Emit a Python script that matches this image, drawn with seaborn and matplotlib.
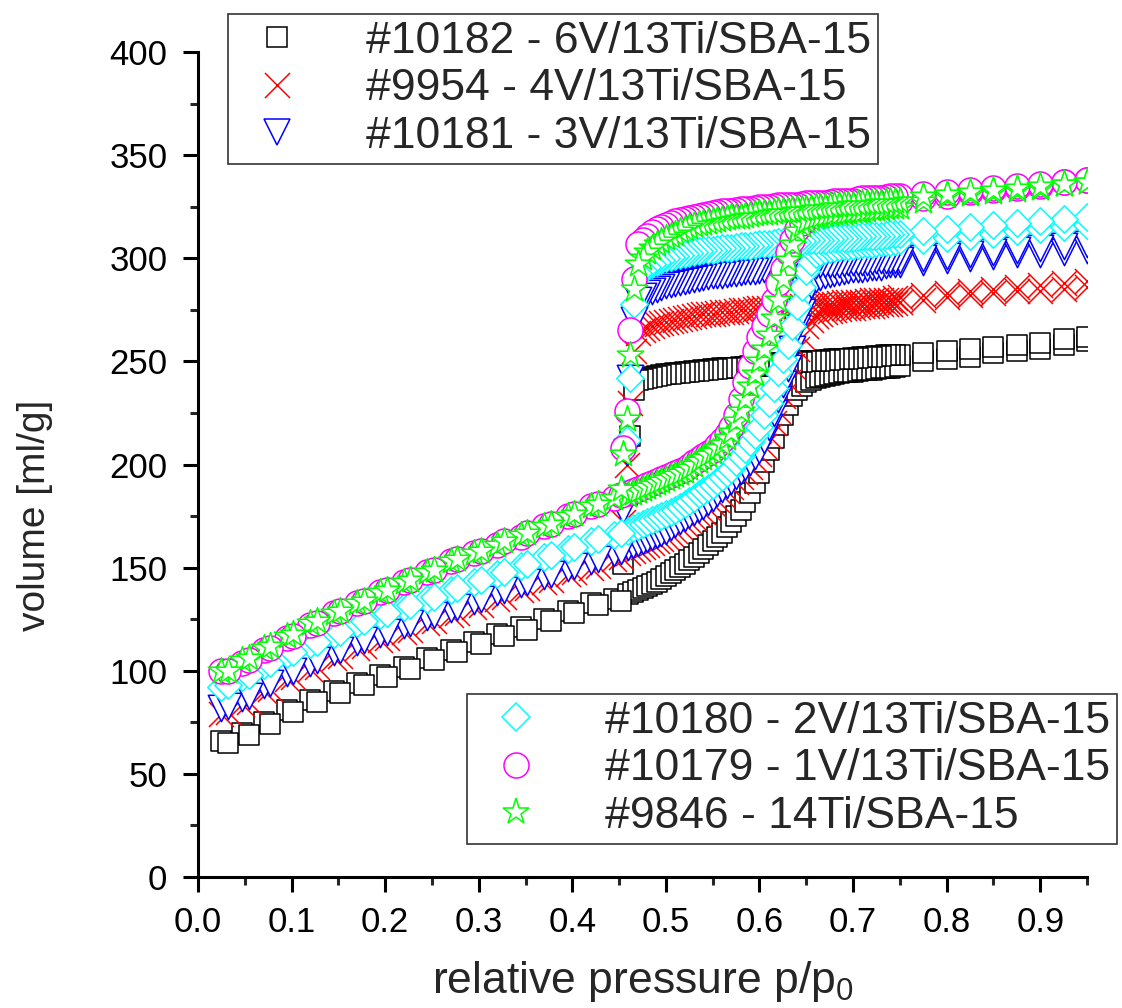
import matplotlib
matplotlib.use("Agg")
import matplotlib.pyplot as plt
from matplotlib.lines import Line2D
from matplotlib.ticker import MultipleLocator
import seaborn as sns

# relative pressure grids (adsorption / desorption)
P_ADS = [0.025, 0.047, 0.07, 0.095, 0.12, 0.145, 0.17, 0.195, 0.22, 0.245, 0.27, 0.295,
         0.32, 0.345, 0.37, 0.395, 0.42, 0.445,
         0.46, 0.465, 0.47, 0.475, 0.48, 0.485, 0.49, 0.495, 0.50, 0.505,
         0.51, 0.515, 0.52, 0.525, 0.53, 0.535, 0.54, 0.545, 0.55, 0.555,
         0.56, 0.565, 0.57, 0.575, 0.58, 0.585, 0.59, 0.595, 0.60, 0.605,
         0.61, 0.615, 0.62, 0.625, 0.63, 0.635, 0.64, 0.645, 0.65, 0.655,
         0.66, 0.665, 0.67, 0.675, 0.68, 0.685, 0.69, 0.695, 0.70, 0.705,
         0.71, 0.715, 0.72, 0.725, 0.73, 0.735, 0.74, 0.745, 0.75,
         0.775, 0.80, 0.825, 0.85, 0.875, 0.90, 0.925, 0.95]
P_DES = [0.95, 0.925, 0.90, 0.875, 0.85, 0.825, 0.80, 0.775,
         0.75, 0.745, 0.74, 0.735, 0.73, 0.725, 0.72, 0.715, 0.71, 0.705,
         0.70, 0.695, 0.69, 0.685, 0.68, 0.675, 0.67, 0.665, 0.66, 0.655,
         0.65, 0.645, 0.64, 0.635, 0.63, 0.625, 0.62, 0.615, 0.61, 0.605,
         0.60, 0.595, 0.59, 0.585, 0.58, 0.575, 0.57, 0.565, 0.56, 0.555,
         0.55, 0.545, 0.54, 0.535, 0.53, 0.525, 0.52, 0.515, 0.51, 0.505,
         0.50, 0.495, 0.49, 0.485, 0.48, 0.475, 0.47,
         0.466, 0.462, 0.458, 0.454,
         0.452, 0.427, 0.402, 0.377, 0.352, 0.327, 0.302, 0.277, 0.252, 0.227, 0.202, 0.177,
         0.152, 0.127, 0.102, 0.077, 0.054, 0.032]

# volume adsorbed [ml/g]
ADS_10182 = [66, 70, 75, 81, 86, 90, 94, 98, 102, 106, 110, 114, 118, 121, 125, 129, 133, 135,
             137, 138, 139, 140, 141, 142, 143, 144.5, 146, 147.5,
             149, 150.5, 152, 153.5, 155, 157, 159, 161, 163, 165,
             167, 169.5, 172, 175, 178, 182, 186, 191, 196, 201,
             207, 213, 219, 224, 229, 233, 236, 238, 240, 241,
             242, 242.5, 243, 243.5, 244, 244.5, 245, 245, 245, 245.5,
             246, 246, 246, 246.5, 247, 247, 247, 247.5, 248,
             250, 251, 252, 254, 255, 256, 258, 260]
DES_10182 = [262, 261, 259, 258, 257, 256, 255, 254,
             253, 253, 253, 253, 252.5, 252.5, 252, 252, 252, 251.5,
             251.5, 251, 251, 251, 251, 250.5, 250.5, 250, 250, 250,
             250, 249.5, 249.5, 249, 249, 249, 249, 248.5, 248.5, 248,
             248, 248, 248, 247.5, 247.5, 247, 247, 247, 247, 246.5,
             246.5, 246, 246, 245.5, 245.5, 245, 245, 244.5, 244.5, 244,
             244, 243.5, 243, 242.5, 242, 241.5, 241,
             236, 214, 185, 152,
             134, 132, 128, 124, 120, 117, 113, 109, 105, 101, 97, 93, 89, 85, 80, 74, 69, 65]

ADS_9954 = [79, 84, 90, 96, 101, 106, 111, 115, 119, 123, 127, 131, 135, 139, 143, 147, 150, 154,
            157, 158, 159, 160, 161, 162, 163, 164, 165, 166.5,
            168, 169.5, 171, 172.5, 174, 175.5, 177, 179, 181, 183,
            185, 187, 189, 191.5, 194, 196.5, 199, 202, 205, 209,
            214, 220, 226, 233, 240, 248, 256, 262, 267, 270,
            272, 273, 274, 274.5, 275, 275.5, 276, 276, 276, 276.5,
            277, 277, 277, 277.5, 278, 278, 278, 278.5, 279,
            280, 281, 282, 283, 284, 284, 285, 286]
DES_9954 = [289, 288, 287, 286, 285, 284, 283, 282,
            281, 280.5, 280, 280, 280, 280, 280, 279.5, 279, 279,
            279, 279, 279, 278.5, 278, 278, 278, 278, 278, 277.5,
            277, 277, 277, 277, 277, 276.5, 276, 276, 276, 276,
            276, 275.5, 275, 275, 275, 274.5, 274, 274, 274, 273.5,
            273, 273, 273, 272.5, 272, 271.5, 271, 270.5, 270, 269.5,
            269, 268.5, 268, 267, 266, 265, 264,
            255, 230, 200, 172,
            155, 151, 148, 144, 140, 136, 132, 128, 124, 120, 116, 112, 107, 102, 97, 91, 85, 80]

ADS_10181 = [82, 87, 93, 99, 104, 109, 114, 118, 122, 126, 130, 134, 138, 142, 146, 150, 153, 157,
             160, 161, 162, 163, 164, 165, 166, 167, 168, 169.5,
             171, 172.5, 174, 175.5, 177, 178.5, 180, 182, 184, 186,
             188, 190, 192, 194.5, 197, 199, 201, 204, 207, 212,
             218, 225, 232, 239, 247, 256, 266, 274, 282, 287,
             290, 291, 292, 292.5, 293, 293.5, 294, 294.5, 295, 295,
             295, 295.5, 296, 296, 296, 296.5, 297, 297, 297,
             298, 299, 300, 301, 302, 302, 303, 304]
DES_10181 = [307, 306, 305, 304, 303, 302, 301, 300,
             299, 299, 299, 299, 299, 299, 298.5, 298, 298, 298,
             298, 298, 297.5, 297, 297, 297, 297, 297, 296.5, 296,
             296, 296, 296, 296, 295.5, 295, 295, 295, 295, 295,
             294.5, 294, 294, 294, 293.5, 293, 293, 292.5, 292, 292,
             292, 291.5, 291, 290.5, 290, 289.5, 289, 288.5, 288, 287.5,
             287, 286, 285, 284, 283, 281.5, 280,
             270, 242, 206, 178,
             158, 154, 151, 147, 143, 139, 135, 131, 127, 123, 119, 115, 110, 105, 100, 94, 88, 83]

ADS_10180 = [92, 97, 103, 108, 113, 118, 123, 127, 131, 135, 139, 143, 147, 151, 155, 159, 163, 166,
             168, 169, 170, 171, 172, 173, 174, 175, 176, 177,
             178, 179.5, 181, 182.5, 184, 185.5, 187, 188.5, 190, 192,
             194, 196, 198, 201, 204, 207.5, 211, 214.5, 218, 224,
             230, 237, 245, 251, 258, 267, 277, 286, 294, 298,
             302, 303, 304, 304.5, 305, 305.5, 306, 306, 306, 306.5,
             307, 307, 307, 307.5, 308, 308, 308, 308.5, 309,
             309, 310, 311, 312, 313, 314, 315, 316]
DES_10180 = [320, 319, 318, 317, 316, 315, 314, 313,
             312, 312, 312, 311.5, 311, 311, 311, 311, 311, 310.5,
             310, 310, 310, 310, 310, 309.5, 309, 309, 309, 309,
             309, 308.5, 308, 308, 308, 308, 308, 307.5, 307, 307,
             307, 306.5, 306, 306, 306, 305.5, 305, 305, 305, 304.5,
             304, 304, 304, 303.5, 303, 302.5, 302, 301.5, 301, 300.5,
             300, 299, 298, 297, 296, 294.5, 293,
             278, 242, 212, 186,
             167, 164, 160, 156, 152, 148, 144, 140, 136, 132, 128, 124, 119, 114, 109, 104, 98, 93]

ADS_10179 = [100, 104, 110, 116, 122, 128, 133, 138, 143, 148, 153, 157, 161, 165, 170, 175, 180, 184,
             186, 187, 188, 189, 190, 191, 192, 193, 194, 195,
             196, 197, 198, 199.5, 201, 202.5, 204, 205.5, 207, 209.5,
             212, 215, 218, 224, 232, 240, 248, 255, 262, 267,
             273, 280, 288, 295, 303, 309, 314, 317, 319, 321,
             322, 322.5, 323, 323.5, 324, 324.5, 325, 325.5, 326, 326,
             326, 326.5, 327, 327, 327, 327.5, 328, 328, 328,
             329, 330, 332, 333, 334, 335, 337, 338]
DES_10179 = [338, 337, 336, 335, 334, 333, 332, 331,
             330, 330, 330, 329.5, 329, 329, 329, 329, 329, 328.5,
             328, 328, 328, 328, 328, 327.5, 327, 327, 327, 327,
             327, 326.5, 326, 326, 326, 326, 326, 325.5, 325, 325,
             325, 324.5, 324, 324, 324, 323.5, 323, 323, 323, 322.5,
             322, 321.5, 321, 320.5, 320, 319.5, 319, 318.5, 318, 317,
             316, 315, 314, 312.5, 311, 309, 307,
             290, 265, 226, 208,
             185, 181, 176, 171, 167, 163, 158, 154, 149, 144, 139, 134, 129, 123, 117, 111, 105, 100]

ADS_9846 = [100, 105, 111, 117, 123, 128, 133, 138, 143, 148, 153, 157, 161, 166, 170, 175, 180, 184,
            185, 186, 187, 188, 189, 190, 191, 192, 193, 194,
            195, 196, 197, 198.5, 200, 201.5, 203, 204.5, 206, 208,
            210, 213, 216, 221, 226, 232, 238, 244, 250, 256,
            263, 271, 280, 290, 299, 307, 313, 316, 318, 319,
            320, 320.5, 321, 321.5, 322, 322, 322, 322.5, 323, 323,
            323, 323.5, 324, 324, 324, 324.5, 325, 325, 325,
            328, 330, 331, 332, 333, 334, 336, 337]
DES_9846 = [337, 336, 335, 334, 333, 332, 331, 330,
            328, 328, 328, 327.5, 327, 327, 327, 327, 327, 326.5,
            326, 326, 326, 326, 326, 325.5, 325, 325, 325, 324.5,
            324, 324, 324, 323.5, 323, 323, 323, 322.5, 322, 322,
            322, 321.5, 321, 320.5, 320, 320, 320, 319.5, 319, 318.5,
            318, 317.5, 317, 316.5, 316, 315, 314, 313, 312, 311,
            310, 308.5, 307, 305, 303, 300, 297,
            285, 253, 222, 205,
            188, 181, 176, 171, 167, 163, 158, 154, 149, 144, 139, 134, 129, 124, 118, 112, 106, 100]

LABELS = ['#10182 - 6V/13Ti/SBA-15', '#9954 - 4V/13Ti/SBA-15', '#10181 - 3V/13Ti/SBA-15',
          '#10180 - 2V/13Ti/SBA-15', '#10179 - 1V/13Ti/SBA-15', '#9846 - 14Ti/SBA-15']
COLORS = ['#000000', '#ff0000', '#0000ff', '#00ffff', '#ff00ff', '#00ff00']
MARKERS = ['s', 'x', 'v', 'D', 'o', '*']
SIZES = [15, 18, 19, 14, 18, 20]

sns.set_theme(style="ticks")
plt.rcParams['font.family'] = ['Liberation Sans', 'DejaVu Sans']
plt.rcParams['mathtext.fontset'] = 'custom'
plt.rcParams['mathtext.rm'] = 'Liberation Sans'

fig = plt.figure(figsize=(11.22, 10.08), dpi=100)
ax = fig.add_axes([198 / 1122, 1 - 877 / 1008, 889 / 1122, 825 / 1008])

series = [(ADS_10182, DES_10182), (ADS_9954, DES_9954), (ADS_10181, DES_10181),
          (ADS_10180, DES_10180), (ADS_10179, DES_10179), (ADS_9846, DES_9846)]

for (ads, des), col, mk, ms in zip(series, COLORS, MARKERS, SIZES):
    for px, vol in ((P_ADS, ads), (P_DES, des)):
        if mk == 'x':
            sns.scatterplot(x=px, y=vol, ax=ax, marker=mk, s=ms ** 2, color=col,
                            linewidth=1.1, legend=False, zorder=3)
        else:
            sns.scatterplot(x=px, y=vol, ax=ax, marker=mk, s=ms ** 2, color=col,
                            facecolor='white', edgecolor=col, linewidth=1.1,
                            legend=False, zorder=3)

ax.set_xlim(0, 0.95)
ax.set_ylim(0, 400)
ax.xaxis.set_minor_locator(MultipleLocator(0.05))
ax.yaxis.set_major_locator(MultipleLocator(50))
ax.yaxis.set_minor_locator(MultipleLocator(25))
ax.set_xticks([0, 0.1, 0.2, 0.3, 0.4, 0.5, 0.6, 0.7, 0.8, 0.9])
ax.set_xticklabels(['0.0', '0.1', '0.2', '0.3', '0.4', '0.5', '0.6', '0.7', '0.8', '0.9'])
ax.tick_params(which='major', direction='out', length=11, width=2.2, labelsize=25,
               colors='black')
ax.tick_params(which='minor', direction='out', length=5.5, width=2.2)
ax.tick_params(axis='x', which='major', pad=10)
ax.tick_params(axis='y', which='major', pad=11)
for side in ['top', 'right']:
    ax.spines[side].set_visible(False)
for side in ['left', 'bottom']:
    ax.spines[side].set_linewidth(2.2)
    ax.spines[side].set_color('black')
ax.set_facecolor('white')

ax.set_ylabel('volume [ml/g]', fontsize=28)
ax.yaxis.set_label_coords(-0.163, 0.438)
ax.set_xlabel(r'relative pressure p/p$_\mathregular{0}$', fontsize=32)
ax.xaxis.set_label_coords(0.5, -0.1)

handles = [Line2D([], [], ls='', marker=mk, ms=ms, mec=col,
                  mfc=('none' if mk != 'x' else col), mew=1.1)
           for col, mk, ms in zip(COLORS, MARKERS, SIZES)]

leg_kw = dict(loc='upper left', bbox_transform=fig.transFigure, fontsize=32,
              frameon=True, fancybox=False, framealpha=1, edgecolor='#333333',
              handlelength=1.9, handletextpad=1.05, labelspacing=0.15, borderpad=0.15,
              borderaxespad=0)
leg1 = fig.legend(handles[:3], LABELS[:3], bbox_to_anchor=(228 / 1122, 1 - 14 / 1008), **leg_kw)
leg2 = fig.legend(handles[3:], LABELS[3:], bbox_to_anchor=(467 / 1122, 1 - 694 / 1008), **leg_kw)
for leg in (leg1, leg2):
    leg.get_frame().set_linewidth(1.2)

fig.savefig('out.png', dpi=100, facecolor='white')
